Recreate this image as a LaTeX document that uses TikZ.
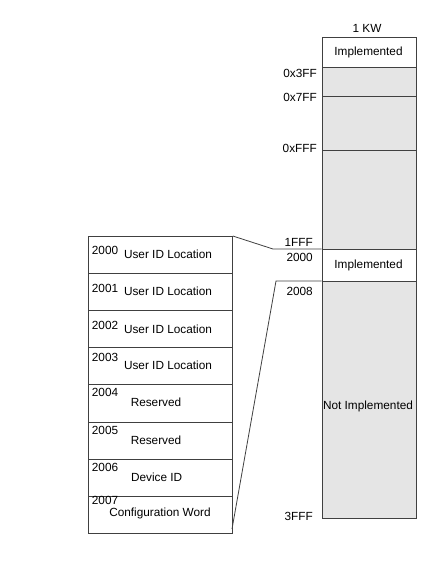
\documentclass[tikz,border=0pt]{standalone}
\usepackage{fontspec}
\setmainfont{Liberation Sans}
\begin{document}
\begin{tikzpicture}[x=1pt,y=-1pt,
  every node/.style={font=\fontsize{11.8}{14}\selectfont, text=black},
  seg/.style={draw=black!75, line width=0.8pt, inner sep=0pt, anchor=north west, minimum width=94.3pt},
  grayseg/.style={seg, fill=black!10},
  whiteseg/.style={seg, fill=white},
  rowbox/.style={draw=black!75, line width=0.8pt, inner sep=0pt, anchor=north west, minimum width=144pt, minimum height=37.1pt},
  addr/.style={anchor=east, inner sep=0pt},
  num/.style={anchor=west, inner sep=0pt},
  conn/.style={draw=black!75, line width=0.8pt}
]
\useasboundingbox (0,0) rectangle (422,580);
% right column
\node[whiteseg, minimum height=29.7pt] (r1) at (321.7,37) {};
\node[grayseg, minimum height=29.3pt] (r2) at (321.7,66.7) {};
\node[grayseg, minimum height=54pt] (r3) at (321.7,96) {};
\node[grayseg, minimum height=99pt] (r4) at (321.7,150) {};
\node[whiteseg, minimum height=32pt] (r5) at (321.7,249) {};
\node[grayseg, minimum height=237.3pt] (r6) at (321.7,281) {};
\node at (368.5,52.3) (t1) {Implemented};
\node at (368.5,265) (t5) {Implemented};
\node at (368,406.7) (t6) {Not Implemented};
\node at (367,28) (kw) {1 KW};
% addresses
\node[addr] (a1) at (317,73) {0x3FF};
\node[addr] (a2) at (317,97) {0x7FF};
\node[addr] (a3) at (317,148) {0xFFF};
\node[addr] (a4) at (313,242) {1FFF};
\node[addr] (a5) at (313,257) {2000};
\node[addr] (a6) at (313,291) {2008};
\node[addr] (a7) at (313,516) {3FFF};
% left table
\node[rowbox] (b0) at (88,236) {};
\node[rowbox] (b1) at (88,273.1) {};
\node[rowbox] (b2) at (88,310.2) {};
\node[rowbox] (b3) at (88,347.3) {};
\node[rowbox] (b4) at (88,384.4) {};
\node[rowbox] (b5) at (88,421.5) {};
\node[rowbox] (b6) at (88,458.6) {};
\node[rowbox] (b7) at (88,495.7) {};
\node[num] (n0) at (91.7,250.7) {2000};
\node[num] (n1) at (91.7,288.3) {2001};
\node[num] (n2) at (91.7,325) {2002};
\node[num] (n3) at (91.7,357.7) {2003};
\node[num] (n4) at (91.7,392.7) {2004};
\node[num] (n5) at (91.7,430) {2005};
\node[num] (n6) at (91.7,467.3) {2006};
\node[num] (n7) at (91.7,500.7) {2007};
\node (l0) at (168,254) {User ID Location};
\node (l1) at (168,291.7) {User ID Location};
\node (l2) at (168,329) {User ID Location};
\node (l3) at (168,365) {User ID Location};
\node (l4) at (156,402.7) {Reserved};
\node (l5) at (156,440) {Reserved};
\node (l6) at (156.7,477) {Device ID};
\node (l7) at (160,513.3) {Configuration Word};
% connectors
\coordinate (c1) at (273,249);
\coordinate (c2) at (276,281);
\coordinate (c3) at (232,529);
\draw[conn] (b0.north east) -- (c1) -- (r5.north west);
\draw[conn] (r6.north west) -- (c2) -- (c3);
\end{tikzpicture}
\end{document}
